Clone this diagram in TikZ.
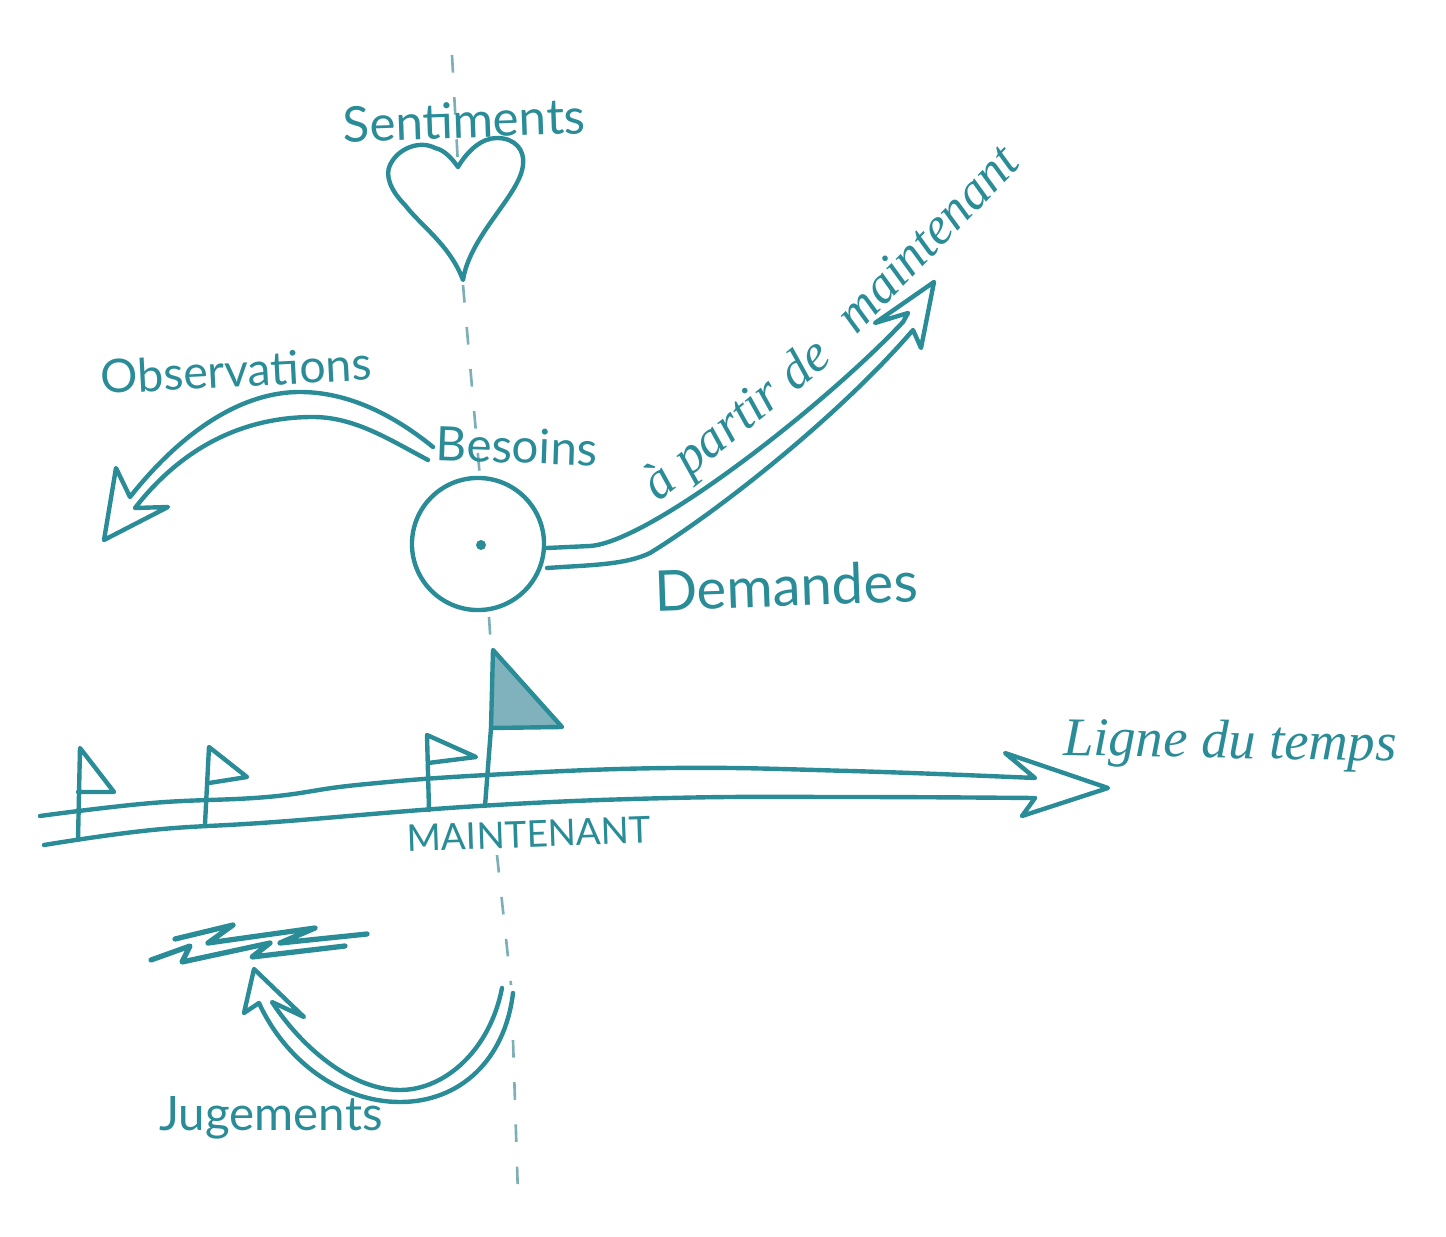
\documentclass[tikz,border=0pt]{standalone}
\usepackage{fontspec}
\setmainfont{Lato}
\newfontfamily\handscript{Liberation Serif}
\usetikzlibrary{positioning}
\definecolor{sketchteal}{HTML}{2A8C96}
\definecolor{dashteal}{HTML}{7DB0B6}
\definecolor{flagteal}{HTML}{7FB2BC}
\tikzset{
  sketch/.style={draw=sketchteal, line width=1.25pt, line cap=round, line join=round},
  axisdash/.style={draw=dashteal, line width=0.75pt, dash pattern=on 5pt off 7pt},
  hand/.style={text=sketchteal, inner sep=0pt, font=\fontsize{#1}{#1}\selectfont},
  cursive/.style={text=sketchteal, inner sep=0pt, font=\handscript\itshape\fontsize{#1}{#1}\selectfont}
}
\begin{document}
\begin{tikzpicture}[x=0.01cm,y=-0.01cm]
\useasboundingbox (0,0) rectangle (1446,1237);

% Dashed axis
\draw[axisdash] (452,55) -- (458,165);
\draw[axisdash] (463,285) -- (480,478);
\draw[axisdash] (489,617) -- (491,648);
\draw[axisdash] (497,855) -- (511,985);
\draw[axisdash] (513,1040) -- (518,1195);

% Heart
\draw[sketch] (458,167) .. controls (468,150) and (482,138) .. (497,138)
  .. controls (515,138) and (525,150) .. (523,165)
  .. controls (520,195) and (470,235) .. (463,280)
  .. controls (450,245) and (420,225) .. (405,205)
  .. controls (390,190) and (385,175) .. (390,165)
  .. controls (398,148) and (420,140) .. (435,148)
  .. controls (445,150) and (453,160) .. (458,167);
\node[hand=14pt, rotate=2] (sentiments) at (464,120) {Sentiments};

% Circle
\node[sketch, circle, minimum size=1.32cm, inner sep=0pt] (moment) at (478,544) {};
\fill[sketchteal] (481,545) circle (5);
\node[hand=13.5pt, rotate=-2] (besoins) at (517,446) {Besoins};

% Observations
\draw[sketch] (433,447) .. controls (390,412) and (345,392) .. (300,392)
  .. controls (235,392) and (175,440) .. (130,497)
  -- (116,468) -- (104,540) -- (168,507) -- (135,508)
  .. controls (180,450) and (240,417) .. (313,417)
  .. controls (355,417) and (390,440) .. (428,460);
\node[hand=13.2pt, rotate=3] (observations) at (236,370) {Observations};

% Demandes
\draw[sketch] (547,548) -- (590,546) .. controls (650,542) and (825,405) .. (903,322)
  -- (908,313) -- (875,323) -- (934,282) -- (921,348) -- (913,330)
  .. controls (840,415) and (720,510) .. (650,553)
  .. controls (625,565) and (590,565) .. (547,568);
\node[hand=16pt, rotate=2] (demandes) at (786,586) {Demandes};
\node[cursive=15pt, rotate=39] (apartir) at (738,422) {à partir de};
\node[cursive=15pt, rotate=46] (maintenant) at (927,238) {maintenant};

% Timeline
\draw[sketch] plot[smooth, tension=0.7] coordinates {(40,816) (152,803) (267,797) (357,785) (487,775) (670,768) (850,771) (1035,778)}
  -- (1005,753) -- (1108,788) -- (1022,816) -- (1035,798)
  plot[smooth, tension=0.7] coordinates {(1035,798) (850,797) (670,798) (479,806) (275,822) (152,830) (44,845)};
\node[cursive=15.5pt, rotate=-1] (ligne) at (1230,745) {Ligne du temps};
\node[hand=10.5pt, rotate=2] (maint) at (529,834) {MAINTENANT};

% Flags
\draw[sketch] (78,840) -- (80,748) -- (114,792) -- (78,792);
\draw[sketch] (205,824) -- (209,747) -- (247,777) -- (209,783);
\draw[sketch] (429,810) -- (427,735) -- (476,757) -- (428,763);
\draw[sketch, fill=flagteal] (493,650) -- (562,727) -- (491,728) -- cycle;
\draw[sketch] (485,806) -- (491,728);

% Lightning
\draw[sketch, line width=1.5pt] (175,939) -- (233,925) -- (208,943) -- (315,928) -- (280,943) -- (367,934);
\draw[sketch, line width=1.5pt] (151,960) -- (190,946) -- (182,962) -- (270,943) -- (252,957) -- (345,946);

% Jugements
\draw[sketch] (502,988) .. controls (490,1050) and (445,1090) .. (400,1090)
  .. controls (350,1090) and (300,1045) .. (272,1002)
  -- (304,1017) -- (254,969) -- (244,1013) -- (259,1003)
  .. controls (285,1060) and (340,1102) .. (400,1102)
  .. controls (460,1102) and (505,1060) .. (513,993);
\node[hand=13.5pt] (jugements) at (271,1118) {Jugements};
\end{tikzpicture}
\end{document}
